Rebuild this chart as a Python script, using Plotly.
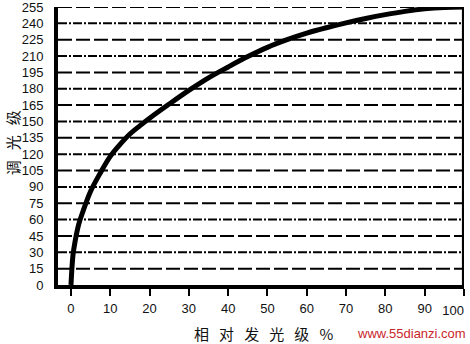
import plotly.graph_objects as go

# relative light level (%) vs dimming level
rel_level = [0, 0.5, 1, 2, 3, 5, 7.5, 10, 12.5, 15, 17.5, 20, 25, 30, 35, 40, 45, 50, 55, 60, 65, 70, 75, 80, 85, 90, 95, 100]
dim_level = [0, 27, 39, 56, 67, 86, 103, 118, 129, 138.5, 146, 153, 166, 178.5, 190, 200, 209.5, 218, 225, 231, 236, 240.5, 244.5, 248, 251, 253.3, 254.6, 255]

x_ticks = [0, 10, 20, 30, 40, 50, 60, 70, 80, 90, 100]
x_tick_text = ["0", "10", "20", "30", "40", "50", "60", "70", "80", "90", ""]
x_end_tick = [100]
x_end_text = ["100"]
y_ticks = [0, 15, 30, 45, 60, 75, 90, 105, 120, 135, 150, 165, 180, 195, 210, 225, 240, 255]

NB = "\u00a0" * 3
X_RANGE = [-3.3, 100.02]

fig = go.Figure()

# dashed grid lines, alternating styles
for i, yv in enumerate(y_ticks[1:]):
    dash = "14px,4px" if i % 2 == 0 else "9px,2px,2px,2px"
    fig.add_shape(type="line", xref="x", yref="y", x0=-3.3, x1=100, y0=yv, y1=yv,
                  line=dict(color="black", width=2, dash=dash), layer="below")

fig.add_trace(go.Scatter(x=rel_level, y=dim_level, mode="lines",
                         line=dict(color="black", width=5, shape="spline", smoothing=1.0),
                         cliponaxis=False, showlegend=False))

fig.update_layout(
    width=470, height=344,
    margin=dict(l=58, r=6, t=7, b=59),
    paper_bgcolor="white", plot_bgcolor="white",
    font=dict(family="Liberation Sans", size=12, color="#111"),
    xaxis=dict(range=X_RANGE, tickvals=x_ticks, ticktext=x_tick_text,
               ticks="outside", ticklen=7, automargin=False,
               tickwidth=2, tickcolor="black", showgrid=False, zeroline=False,
               showline=True, linecolor="black", linewidth=4, mirror=False,
               ticklabelstandoff=1, ticklabeloverflow="allow", tickfont=dict(size=13)),
    xaxis2=dict(range=X_RANGE, overlaying="x", side="bottom", anchor="y",
                tickvals=x_end_tick, ticktext=x_end_text, ticks="", automargin=False,
                ticklabelposition="outside left", showgrid=False, zeroline=False,
                showline=False, ticklabelstandoff=16, ticklabeloverflow="allow",
                tickfont=dict(size=13)),
    yaxis=dict(range=[0, 255], tickvals=y_ticks, ticks="", showgrid=False, zeroline=False,
               showline=True, linecolor="black", linewidth=4, ticklabelstandoff=8,
               automargin=False, ticklabeloverflow="allow", tickfont=dict(size=13)),
    annotations=[
        dict(text=NB.join(["调", "光", "级"]), xref="paper", yref="paper", x=-0.113, y=0.51,
             xanchor="center", yanchor="middle", textangle=-90, showarrow=False,
             font=dict(family="Noto Sans CJK SC", size=15, color="#111")),
        dict(text=NB.join(["相", "对", "发", "光", "级", "%"]), xref="paper", yref="paper",
             x=0.505, y=-0.173, xanchor="center", yanchor="middle", showarrow=False,
             font=dict(family="Noto Sans CJK SC", size=15, color="#111")),
        dict(text="www.55dianzi.com", xref="paper", yref="paper", x=0.7315, y=-0.173,
             xanchor="left", yanchor="middle", showarrow=False,
             font=dict(family="Liberation Sans", size=13, color="#c8262b")),
    ],
)
# invisible trace to activate the secondary x axis for the end label
fig.add_trace(go.Scatter(x=x_end_tick, y=[0], xaxis="x2", yaxis="y", mode="markers",
                         marker=dict(opacity=0), hoverinfo="skip", showlegend=False))
# right border
fig.add_shape(type="line", xref="x", yref="y", x0=100, x1=100, y0=0, y1=256,
              line=dict(color="black", width=4))

fig.write_html("out.html")
